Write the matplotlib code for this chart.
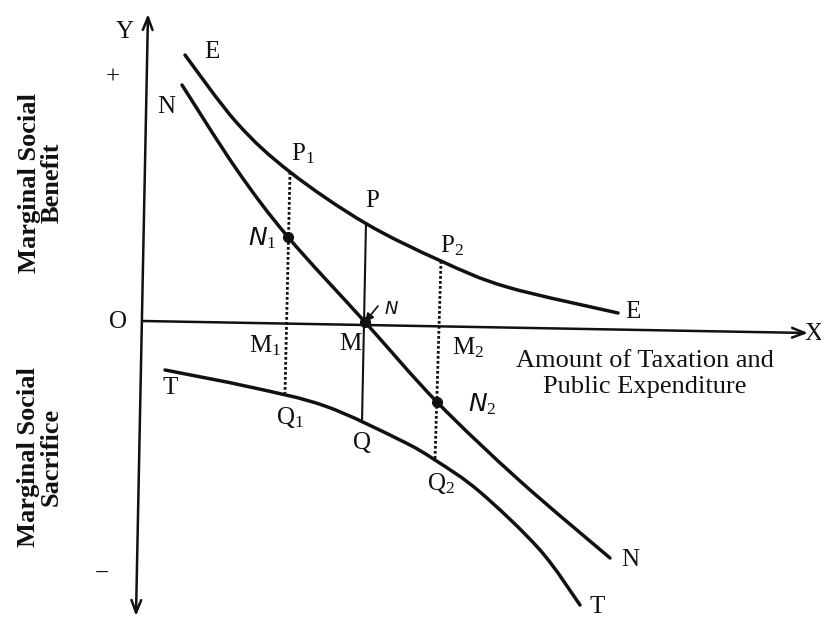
import matplotlib.pyplot as plt
from matplotlib.path import Path
from matplotlib.patches import PathPatch

plt.rcParams['font.family'] = ['Liberation Serif', 'DejaVu Serif']
plt.rcParams['mathtext.fontset'] = 'custom'
plt.rcParams['mathtext.rm'] = 'Liberation Serif'
plt.rcParams['mathtext.it'] = 'Liberation Serif'

INK = '#111111'

# Curves (pixel positions, y grows downwards)
e_x = [185, 237, 290, 365, 441, 507, 618]
e_y = [55, 123, 172, 223, 261, 287, 313]

n_x = [182, 237, 288, 365, 437, 520, 610]
n_y = [85, 170, 237, 322, 402, 481, 558]

t_x = [165, 250, 325, 400, 435, 480, 540, 580]
t_y = [370, 387, 406, 440, 460, 492, 550, 605]

# vertical drop lines: (top x, bottom x, top y, bottom y)
drop_p1 = [290, 285, 172, 393]
drop_p = [366, 362, 223, 422]
drop_p2 = [441, 435, 261, 460]

# marked points on N
dots_x = [288, 437, 365]
dots_y = [237, 402, 322]

# axes ends
origin = (143, 321)
y_top = (148, 14)
y_bottom = (136, 616)
x_end = (808, 333)


def smooth_path(xs, ys):
    # Catmull-Rom through the read points, drawn as cubic Beziers
    pts = list(zip(xs, ys))
    verts = [pts[0]]
    codes = [Path.MOVETO]
    for i in range(len(pts) - 1):
        p0 = pts[i - 1] if i > 0 else pts[i]
        p1, p2 = pts[i], pts[i + 1]
        p3 = pts[i + 2] if i + 2 < len(pts) else pts[i + 1]
        c1 = (p1[0] + (p2[0] - p0[0]) / 6, p1[1] + (p2[1] - p0[1]) / 6)
        c2 = (p2[0] - (p3[0] - p1[0]) / 6, p2[1] - (p3[1] - p1[1]) / 6)
        verts += [c1, c2, p2]
        codes += [Path.CURVE4] * 3
    return Path(verts, codes)


fig = plt.figure(figsize=(8.21, 6.21), dpi=100)
ax = fig.add_axes([0, 0, 1, 1])
ax.set_xlim(0, 821)
ax.set_ylim(621, 0)
ax.axis('off')

# axes
ax.annotate('', xy=y_top, xytext=y_bottom,
            arrowprops=dict(arrowstyle='<->,head_length=0.9,head_width=0.35',
                            color=INK, lw=1.8, shrinkA=0, shrinkB=0))
ax.annotate('', xy=x_end, xytext=origin,
            arrowprops=dict(arrowstyle='->,head_length=0.9,head_width=0.35',
                            color=INK, lw=1.8, shrinkA=0, shrinkB=0))

# curves
for cx, cy in [(e_x, e_y), (n_x, n_y), (t_x, t_y)]:
    ax.add_patch(PathPatch(smooth_path(cx, cy), facecolor='none',
                           edgecolor=INK, lw=2.5, capstyle='round'))

# drop lines
for d in [drop_p1, drop_p2]:
    ax.plot(d[:2], d[2:], color=INK, lw=2.0, linestyle=(0, (1.0, 0.8)))
ax.plot(drop_p[:2], drop_p[2:], color=INK, lw=1.5)

ax.plot(dots_x, dots_y, 'o', color=INK, markersize=7, linestyle='none')
ax.annotate('', xy=(365, 322), xytext=(378, 306),
            arrowprops=dict(arrowstyle='-|>,head_length=0.5,head_width=0.25',
                            color=INK, lw=1.2, shrinkA=0, shrinkB=0))

# letter labels
fs = 18
labels = [
    ('Y', 125, 32), ('E', 212, 52), ('N', 166, 107), ('+', 113, 78),
    ('O', 118, 322), ('−', 102, 574), ('X', 813, 334),
    ('E', 633, 312), ('N', 630, 560), ('T', 597, 607), ('T', 170, 388),
    ('P$_1$', 303, 154), ('P', 372, 201), ('P$_2$', 452, 246),
    ('M$_1$', 265, 346), ('M', 350, 344), ('M$_2$', 468, 348),
    ('Q$_1$', 290, 418), ('Q', 362, 443), ('Q$_2$', 441, 484),
]
for s, lx, ly in labels:
    ax.text(lx, ly, s, fontsize=fs, color=INK, ha='center', va='center')

# handwritten marks
hand = dict(family='DejaVu Sans', fontsize=18, color=INK, ha='center',
            va='center', fontstyle='italic')
ax.text(262, 238, 'N$_1$', **hand)
ax.text(391, 309, 'N', family='DejaVu Sans', fontsize=13, color=INK,
        ha='center', va='center', fontstyle='italic')
ax.text(482, 404, 'N$_2$', **hand)

ax.text(645, 374, 'Amount of Taxation and\nPublic Expenditure', fontsize=19,
        color=INK, ha='center', va='center', linespacing=1.2)

ax.text(41, 183, 'Marginal Social\nBenefit', fontsize=19, fontweight='bold',
        color=INK, ha='center', va='center', rotation=90, linespacing=0.95)
ax.text(40, 457, 'Marginal Social\nSacrifice', fontsize=19, fontweight='bold',
        color=INK, ha='center', va='center', rotation=90, linespacing=0.95)

fig.savefig('out.png', dpi=100, facecolor='white')
